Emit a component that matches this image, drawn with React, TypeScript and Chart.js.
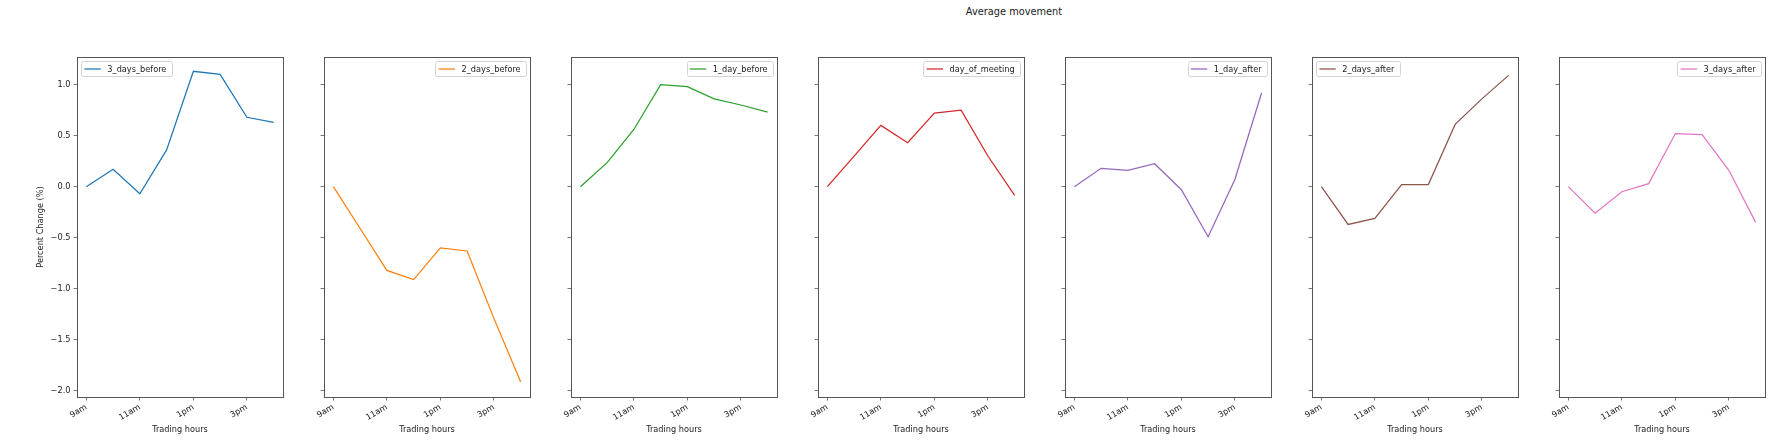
import { useEffect, useRef } from 'react';
import { Chart, registerables } from 'chart.js';

Chart.register(...registerables);

// hourly samples, labels every two hours
const hours = ['9am', '10am', '11am', '12pm', '1pm', '2pm', '3pm', '4pm'];
const xTickHours = ['9am', '11am', '1pm', '3pm'];
const yTicks = [-2.0, -1.5, -1.0, -0.5, 0.0, 0.5, 1.0];

const seriesNames = [
  '3_days_before',
  '2_days_before',
  '1_day_before',
  'day_of_meeting',
  '1_day_after',
  '2_days_after',
  '3_days_after',
];

const threeDaysBefore = [0.0, 0.17, -0.07, 0.36, 1.13, 1.1, 0.68, 0.63];
const twoDaysBefore = [0.0, -0.41, -0.82, -0.91, -0.6, -0.63, -1.29, -1.91];
const oneDayBefore = [0.0, 0.235, 0.56, 1.0, 0.98, 0.86, 0.8, 0.73];
const dayOfMeeting = [0.0, 0.3, 0.6, 0.43, 0.72, 0.75, 0.3, -0.085];
const oneDayAfter = [0.0, 0.18, 0.16, 0.225, -0.03, -0.49, 0.07, 0.92];
const twoDaysAfter = [0.0, -0.37, -0.31, 0.02, 0.02, 0.61, 0.86, 1.09];
const threeDaysAfter = [0.0, -0.26, -0.05, 0.03, 0.52, 0.51, 0.16, -0.35];

const seriesValues = [
  threeDaysBefore,
  twoDaysBefore,
  oneDayBefore,
  dayOfMeeting,
  oneDayAfter,
  twoDaysAfter,
  threeDaysAfter,
];

const lineColors = ['#1f77b4', '#ff7f0e', '#2ca02c', '#d62728', '#9467bd', '#8c564b', '#e377c2'];
const legendSides = ['left', 'right', 'right', 'right', 'right', 'left', 'right'];

const FONT = 'DejaVu Sans';
const FS = 8.2;
const TEXT = '#222';
const AXIS = '#555';

const AREA_LEFT = 77;
const AREA_STEP = 247;
const AREA_W = 206;
const Y_AXIS_W = 50;
const PAD_RIGHT = 3;

// axes frame on all four sides + matplotlib-style legend inside the axes
const panelFrame = {
  id: 'panelFrame',
  afterDraw(chart: any, _args: any, opts: any) {
    const { ctx, chartArea: a } = chart;
    const ds = chart.data.datasets[0];
    ctx.save();

    const x0 = Math.round(a.left);
    const y0 = Math.round(a.top);
    const x1 = Math.round(a.right);
    const y1 = Math.round(a.bottom);
    ctx.strokeStyle = AXIS;
    ctx.lineWidth = 1;
    ctx.strokeRect(x0 + 0.5, y0 + 0.5, x1 - x0, y1 - y0);

    ctx.font = `${FS}px "${FONT}"`;
    const tw = ctx.measureText(ds.label).width;
    const pad = 0.4 * FS;
    const handle = 2 * FS;
    const gap = 0.8 * FS;
    const inset = 0.5 * FS;
    const w = pad + handle + gap + tw + pad + 2;
    const h = 15;
    const lx = opts.side === 'left' ? x0 + inset : x1 - inset - w;
    const ly = y0 + inset;

    ctx.beginPath();
    ctx.roundRect(Math.round(lx) + 0.5, Math.round(ly) + 0.5, Math.round(w), h, 2);
    ctx.fillStyle = 'rgba(255,255,255,0.8)';
    ctx.fill();
    ctx.strokeStyle = '#d4d4d4';
    ctx.lineWidth = 1;
    ctx.stroke();

    const my = Math.round(ly) + 0.5 + h / 2;
    ctx.beginPath();
    ctx.moveTo(lx + pad, my);
    ctx.lineTo(lx + pad + handle, my);
    ctx.strokeStyle = ds.borderColor;
    ctx.lineWidth = 1.25;
    ctx.stroke();

    ctx.fillStyle = TEXT;
    ctx.textBaseline = 'middle';
    ctx.textAlign = 'left';
    ctx.fillText(ds.label, lx + pad + handle + gap, my + 0.5);
    ctx.restore();
  },
};

function Panel({ index }: { index: number }) {
  const canvasRef = useRef<HTMLCanvasElement>(null);

  useEffect(() => {
    if (!canvasRef.current) return;
    const first = index === 0;
    const tickFont = { family: FONT, size: FS };

    const chart = new Chart(canvasRef.current, {
      type: 'line',
      data: {
        datasets: [
          {
            label: seriesNames[index],
            data: seriesValues[index].map((y, i) => ({ x: i, y })),
            borderColor: lineColors[index],
            borderWidth: 1.25,
            pointRadius: 0,
            tension: 0,
            fill: false,
          },
        ],
      },
      options: {
        responsive: false,
        animation: false,
        events: [],
        layout: { padding: { top: 57, right: PAD_RIGHT, left: 0, bottom: 0 } },
        plugins: {
          legend: { display: false },
          tooltip: { enabled: false },
          panelFrame: { side: legendSides[index] },
        } as any,
        scales: {
          x: {
            type: 'linear',
            min: -0.35,
            max: 7.35,
            afterBuildTicks: (s: any) => {
              s.ticks = xTickHours.map((h) => ({ value: hours.indexOf(h) }));
            },
            afterFit: (s: any) => {
              s.height = 43;
            },
            border: { display: false },
            grid: { drawOnChartArea: false, drawTicks: true, tickLength: 3.5, tickColor: AXIS, tickWidth: 0.8 },
            ticks: {
              callback: (v: any) => hours[v as number],
              minRotation: 30,
              maxRotation: 30,
              autoSkip: false,
              padding: 2,
              color: TEXT,
              font: tickFont,
            },
            title: {
              display: true,
              text: 'Trading hours',
              color: TEXT,
              font: tickFont,
              padding: { top: 0, bottom: 5 },
            },
          },
          y: {
            type: 'linear',
            min: -2.06,
            max: 1.27,
            afterBuildTicks: (s: any) => {
              s.ticks = yTicks.map((v) => ({ value: v }));
            },
            afterFit: (s: any) => {
              s.width = Y_AXIS_W;
            },
            border: { display: false },
            grid: { drawOnChartArea: false, drawTicks: true, tickLength: 3.5, tickColor: AXIS, tickWidth: 0.8 },
            ticks: {
              display: first,
              callback: (v: any) => (v as number).toFixed(1).replace('-', '\u2212'),
              padding: 3,
              color: TEXT,
              font: tickFont,
            },
            title: {
              display: first,
              text: 'Percent Change (%)',
              color: TEXT,
              font: tickFont,
              padding: { top: 9, bottom: 0 },
            },
          },
        },
      },
      plugins: [panelFrame],
    });

    return () => {
      chart.destroy();
    };
  }, [index]);

  const left = AREA_LEFT + AREA_STEP * index - Y_AXIS_W;
  const width = Y_AXIS_W + AREA_W + PAD_RIGHT;

  return (
    <canvas
      ref={canvasRef}
      width={width}
      height={440}
      style={{ position: 'absolute', left, top: 0, width, height: 440 }}
    />
  );
}

export default function App() {
  return (
    <div
      style={{
        position: 'absolute',
        left: 0,
        top: 0,
        width: 1781,
        height: 440,
        background: '#fff',
        overflow: 'hidden',
      }}
    >
      <div
        style={{
          position: 'absolute',
          left: 1014,
          top: 6,
          transform: 'translateX(-50%)',
          fontFamily: FONT,
          fontSize: 9.8,
          lineHeight: '12px',
          color: TEXT,
          whiteSpace: 'nowrap',
        }}
      >
        Average movement
      </div>
      {seriesNames.map((name, i) => (
        <Panel key={name} index={i} />
      ))}
    </div>
  );
}
